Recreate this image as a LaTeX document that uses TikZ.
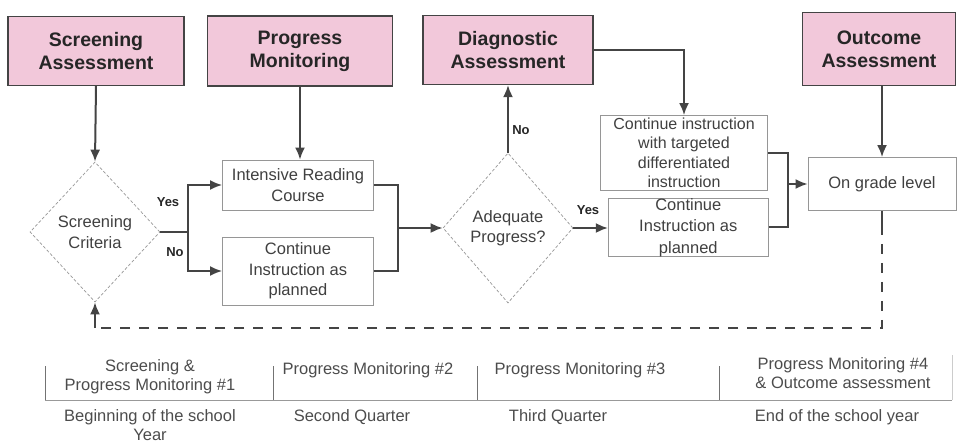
\documentclass[tikz,border=0pt]{standalone}
\usepackage{fontspec}
\setmainfont{Liberation Sans}
\usetikzlibrary{positioning, arrows.meta, shapes.geometric}

\definecolor{headpink}{RGB}{242,200,218}
\definecolor{linegray}{RGB}{68,68,68}
\definecolor{boxgray}{RGB}{150,150,150}

\tikzset{
  headbox/.style={rectangle, draw=linegray, line width=1.2pt, fill=headpink, align=center,
    inner sep=0pt, font=\bfseries\fontsize{19.5}{23}\selectfont, text=black!85},
  stepbox/.style={rectangle, draw=boxgray, line width=0.8pt, fill=white, align=center,
    inner sep=0pt, font=\fontsize{16.5}{20.5}\selectfont, text=black!75},
  decision/.style={diamond, draw=boxgray, densely dashed, line width=0.7pt, aspect=0.9,
    inner sep=0pt, align=center, font=\fontsize{16.5}{20.5}\selectfont, text=black!75},
  flow/.style={draw=linegray, line width=2pt},
  arr/.style={flow, -{Latex[length=12pt,width=10pt]}},
  tag/.style={font=\bfseries\fontsize{13}{16}\selectfont, text=black!85},
  phase/.style={align=center, font=\fontsize{16.5}{19}\selectfont, text=black!70},
  tick/.style={draw=black!55, line width=0.9pt},
}

\begin{document}
\begin{tikzpicture}[x=1pt, y=-1pt]
  \useasboundingbox (0,0) rectangle (957,442);

  % assessments
  \node(screen_assess)[headbox, minimum width=176pt, minimum height=69pt] at (96,51) {Screening\\Assessment};
  \node(prog_mon)[headbox, minimum width=185pt, minimum height=70pt] at (300,51) {Progress\\Monitoring};
  \node(diag_assess)[headbox, minimum width=170pt, minimum height=69pt] at (508,50) {Diagnostic\\Assessment};
  \node(outcome_assess)[headbox, minimum width=153pt, minimum height=73pt] at (879,49) {Outcome\\Assessment};

  % flow
  \node(screen_crit)[decision, minimum width=130pt, minimum height=140pt] at (95,232) {Screening\\Criteria};
  \node(reading)[stepbox, minimum width=151pt, minimum height=50pt] at (298,185) {Intensive Reading\\Course};
  \node(plan_a)[stepbox, minimum width=151pt, minimum height=68pt] at (298,271) {Continue\\Instruction as\\planned};
  \node(adequate)[decision, minimum width=130pt, minimum height=150pt] at (508,228) {Adequate\\Progress?};
  \node(targeted)[stepbox, minimum width=167pt, minimum height=75pt, font=\fontsize{16}{19.5}\selectfont] at (684,153) {Continue instruction\\with targeted\\differentiated\\instruction};
  \node(plan_b)[stepbox, minimum width=160pt, minimum height=58pt, font=\fontsize{16.5}{21.5}\selectfont, below right=7pt and -160pt of targeted.south east] {Continue\\Instruction as\\planned};
  \node(grade)[stepbox, minimum width=148pt, minimum height=53pt] at (882,184) {On grade level};

  \draw[arr] (screen_assess.south) -- (screen_crit.north);
  \draw[arr] (prog_mon.south) -- (prog_mon.south |- reading.north);
  \draw[flow] (screen_crit.east) -- ++(28,0) coordinate(split);
  \draw[arr] (split) |- (reading.west);
  \draw[arr] (split) |- (plan_a.west);
  \node(yes_a)[tag] at (168,202) {Yes};
  \node(no_a)[tag] at (175,252) {No};

  \coordinate(join_a) at (398,228);
  \draw[flow] (reading.east) -| (join_a);
  \draw[flow] (plan_a.east) -| (join_a);
  \draw[arr] (join_a) -- (adequate.west);

  \draw[arr] (adequate.north) -- (diag_assess.south);
  \node(no_b)[tag] at (521,130) {No};
  \draw[arr] (diag_assess.east) -| (targeted.north);
  \draw[arr] (adequate.east) -- (adequate.east -| plan_b.west);
  \node(yes_b)[tag] at (588,210) {Yes};

  \coordinate(join_b) at (788,184);
  \draw[flow] (targeted.east) -| (join_b);
  \draw[flow] (plan_b.east) -| (join_b);
  \draw[arr] (join_b) -- (grade.west);
  \draw[arr] (outcome_assess.south -| grade.north) -- (grade.north);

  % loop back to screening
  \coordinate(back) at (95,328);
  \draw[flow] (grade.south) -- ++(0,14) coordinate(drop);
  \draw[flow, line width=2.2pt, dash pattern=on 10pt off 9pt] (drop) |- (back);
  \draw[arr] (back) -- (screen_crit.south);

  % timeline
  \foreach \tx in {45,273,477,719}
    \draw[tick] (\tx,366) -- (\tx,400);
  \draw[tick, draw=black!40] (45,400) -- (952,400);
  \draw[tick, draw=black!20] (952,355) -- (952,400);

  \node(phase_a)[phase] at (150,377) {Screening \&\\Progress Monitoring \#1};
  \node(phase_b)[phase] at (368,370) {Progress Monitoring \#2};
  \node(phase_c)[phase] at (580,370) {Progress Monitoring \#3};
  \node(phase_d)[phase] at (843,373) {Progress Monitoring \#4\\\& Outcome assessment};
  \node(time_a)[phase] at (150,425) {Beginning of the school\\Year};
  \node(time_b)[phase] at (352,417) {Second Quarter};
  \node(time_c)[phase] at (558,417) {Third Quarter};
  \node(time_d)[phase] at (837,417) {End of the school year};
\end{tikzpicture}
\end{document}
